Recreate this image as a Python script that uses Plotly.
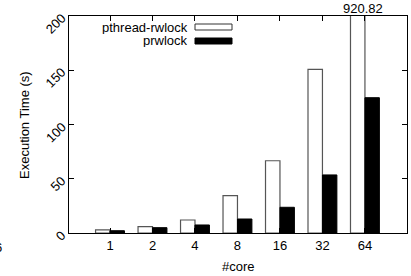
import plotly.graph_objects as go

cores = ["1", "2", "4", "8", "16", "32", "64"]
pthread_rwlock = [2.8, 5.8, 12.0, 34.4, 66.6, 150.8, 920.82]
prwlock = [2.1, 4.9, 7.4, 12.9, 23.7, 53.5, 124.7]
y_ticks = [0, 50, 100, 150, 200]

idx = list(range(len(cores)))
FONT = "Liberation Sans, Arial, Helvetica, sans-serif"
FS = 13

# plot area in pixels
L, R, T, B = 69, 407, 16, 233
PW, PH = R - L, B - T


def px(xp):
    return (xp - L) / PW


def py(yp):
    return (B - yp) / PH


fig = go.Figure()
fig.add_trace(go.Bar(x=idx, y=pthread_rwlock, width=0.34, offset=-0.34,
                     marker=dict(color="white", line=dict(color="#555", width=1.2)),
                     name="pthread-rwlock", showlegend=False))
fig.add_trace(go.Bar(x=idx, y=prwlock, width=0.34, offset=0,
                     marker=dict(color="black", line=dict(color="black", width=1)),
                     name="prwlock", showlegend=False))

fig.update_layout(
    width=411, height=276,
    margin=dict(l=L, r=411 - R, t=T, b=276 - B, autoexpand=False),
    plot_bgcolor="white", paper_bgcolor="white",
    barmode="overlay",
    font=dict(family=FONT, size=FS, color="black"),
    xaxis=dict(range=[-0.965, 6.99], tickvals=idx, ticktext=cores,
               ticks="inside", ticklen=5, tickcolor="black", mirror="ticks",
               showline=True, linecolor="black", linewidth=1, showgrid=False,
               zeroline=False, automargin=False, tickfont=dict(size=FS)),
    yaxis=dict(range=[0, 200], tickvals=y_ticks, ticks="inside", ticklen=5,
               tickcolor="black", mirror="ticks", showline=True, linecolor="black",
               linewidth=1, showgrid=False, zeroline=False, showticklabels=False,
               automargin=False),
)

# rotated y tick labels (gnuplot style: text ends at the tick, runs down-left)
for v in y_ticks:
    half = len(str(v)) * 0.556 * FS / 2 * 0.707
    fig.add_annotation(x=px(63.5 - half), xref="paper", y=v, yref="y", text=str(v),
                       textangle=-45, showarrow=False, xanchor="center",
                       yanchor="middle", yshift=-half, font=dict(size=FS))

# axis titles
fig.add_annotation(x=px(25), y=py(125), xref="paper", yref="paper",
                   text="Execution Time (s)", textangle=-90, showarrow=False,
                   xanchor="center", yanchor="middle", font=dict(size=FS))
fig.add_annotation(x=px(238), y=py(266), xref="paper", yref="paper",
                   text="#core", showarrow=False, xanchor="center",
                   yanchor="middle", font=dict(size=FS))

# value label for the clipped bar
fig.add_annotation(x=idx[-1], y=1.0, yref="paper", text=f"{pthread_rwlock[-1]:.2f}",
                   showarrow=False, yanchor="bottom", xanchor="center", yshift=-2,
                   xshift=-2, font=dict(size=FS))

# gnuplot-style legend (text then sample)
leg = [("pthread-rwlock", "white", "#333", 27), ("prwlock", "black", "black", 41)]
for name, fill, line, yc in leg:
    fig.add_annotation(x=px(189), y=py(yc), xref="paper", yref="paper", text=name,
                       showarrow=False, xanchor="right", yanchor="middle",
                       height=13, borderpad=0, font=dict(size=FS))
    fig.add_shape(type="rect", xref="paper", yref="paper",
                  x0=px(195), x1=px(232), y0=py(yc + 3), y1=py(yc - 3),
                  fillcolor=fill, line=dict(color=line, width=1))

# stray clipped label at far left
fig.add_annotation(x=px(4), y=py(247), xref="paper", yref="paper",
                   text="6", showarrow=False, xanchor="right", yanchor="middle",
                   font=dict(size=FS))

fig.write_html("out.html", config={"displayModeBar": False},
               post_script="document.body.style.margin='0';document.body.style.overflow='hidden';")
